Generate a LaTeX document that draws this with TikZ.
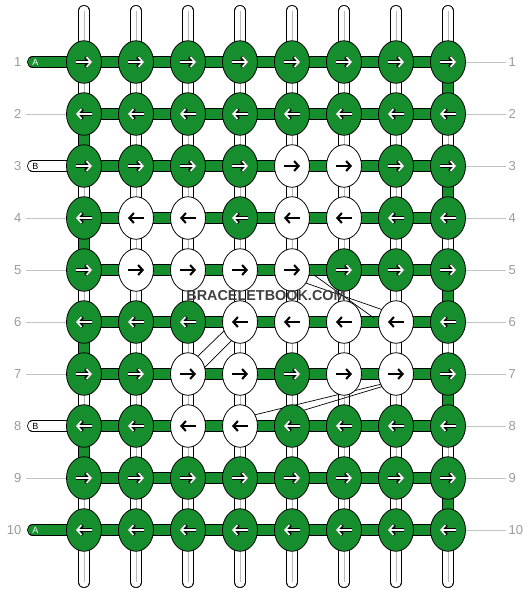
\documentclass[tikz,border=0pt]{standalone}
\usepackage{fontspec}
\setmainfont{Liberation Sans}
\usetikzlibrary{shapes.geometric,arrows.meta,backgrounds}
\definecolor{kgreen}{RGB}{22,142,46}
\definecolor{numgray}{RGB}{155,155,155}
\definecolor{linegray}{RGB}{195,195,195}

\begin{document}
\begin{tikzpicture}[x=1pt,y=-1pt,
  knot/.style={ellipse,draw=black,line width=0.8pt,minimum width=35pt,minimum height=42.5pt,inner sep=0pt},
  arrtip/.style={-{Straight Barb[length=4.5pt,width=10pt]}},
  garrow/.style 2 args={path picture={
    \draw[line width=3.2pt,arrtip] ([xshift=#1]path picture bounding box.center) -- ([xshift=#2]path picture bounding box.center);
    \draw[white,line width=1.6pt,arrtip] ([xshift=#1]path picture bounding box.center) -- ([xshift=#2]path picture bounding box.center);}},
  warrow/.style 2 args={path picture={
    \draw[line width=2.1pt,arrtip] ([xshift=#1]path picture bounding box.center) -- ([xshift=#2]path picture bounding box.center);}},
  gright/.style={knot,fill=kgreen,garrow={-8pt}{8pt}},
  gleft/.style={knot,fill=kgreen,garrow={8pt}{-8pt}},
  wright/.style={knot,fill=white,warrow={-8pt}{8pt}},
  wleft/.style={knot,fill=white,warrow={8pt}{-8pt}},
  strand/.style={draw=black,line width=0.8pt,double=white,double distance=10pt,line cap=round},
  midline/.style={draw=black!28,line width=0.7pt},
  band/.style={draw=black,line width=0.8pt,double=kgreen,double distance=9.6pt},
  wband/.style={draw=black,line width=0.8pt,double=white,double distance=9.6pt},
  gline/.style={draw=linegray,line width=0.8pt},
  numlabel/.style={inner sep=0pt,text=numgray,font=\fontsize{13}{13}\selectfont},
  taillabel/.style={inner sep=0pt,font=\fontsize{9}{9}\selectfont},
  diag/.style={draw=black,line width=0.7pt}]
\useasboundingbox (0,0) rectangle (532,592);
\foreach \s [count=\c] in {gright,gright,gright,gright,gright,gright,gright,gright} \node[\s] (k-1-\c) at ({32+52*\c},62) {};
\foreach \s [count=\c] in {gleft,gleft,gleft,gleft,gleft,gleft,gleft,gleft} \node[\s] (k-2-\c) at ({32+52*\c},114) {};
\foreach \s [count=\c] in {gright,gright,gright,gright,wright,wright,gright,gright} \node[\s] (k-3-\c) at ({32+52*\c},166) {};
\foreach \s [count=\c] in {gleft,wleft,wleft,gleft,wleft,wleft,gleft,gleft} \node[\s] (k-4-\c) at ({32+52*\c},218) {};
\foreach \s [count=\c] in {gright,wright,wright,wright,wright,gright,gright,gright} \node[\s] (k-5-\c) at ({32+52*\c},270) {};
\foreach \s [count=\c] in {gleft,gleft,gleft,wleft,wleft,wleft,wleft,gleft} \node[\s] (k-6-\c) at ({32+52*\c},322) {};
\foreach \s [count=\c] in {gright,gright,wright,wright,gright,wright,wright,gright} \node[\s] (k-7-\c) at ({32+52*\c},374) {};
\foreach \s [count=\c] in {gleft,gleft,wleft,wleft,gleft,gleft,gleft,gleft} \node[\s] (k-8-\c) at ({32+52*\c},426) {};
\foreach \s [count=\c] in {gright,gright,gright,gright,gright,gright,gright,gright} \node[\s] (k-9-\c) at ({32+52*\c},478) {};
\foreach \s [count=\c] in {gleft,gleft,gleft,gleft,gleft,gleft,gleft,gleft} \node[\s] (k-10-\c) at ({32+52*\c},530) {};
\foreach \r in {1,...,10} {
  \node[numlabel,anchor=east] (nl-\r) at (21.5,{10+52*\r}) {\r};
  \node[numlabel,anchor=west] (nr-\r) at (508.5,{10+52*\r}) {\r};
}
\coordinate (s-1) at (32.6,62);
\coordinate (s-3) at (32.6,166);
\coordinate (s-8) at (32.6,426);
\coordinate (s-10) at (32.6,530);
\coordinate (d1) at (300,281);
\coordinate (d2) at (386,311);
\coordinate (d3) at (314,275);
\coordinate (d4) at (374,318);
\coordinate (d5) at (228,327);
\coordinate (d6) at (195,359);
\coordinate (d7) at (236,336);
\coordinate (d8) at (202,370);
\coordinate (d9) at (250,416);
\coordinate (d10) at (386,383);
\coordinate (d11) at (298,412);
\coordinate (d12) at (384,386);
\begin{scope}[on background layer]
\foreach \c in {1,...,8} {
  \coordinate (t-\c) at ({32+52*\c},10.8);
  \coordinate (b-\c) at ({32+52*\c},582.2);
  \draw[strand] (t-\c) -- (b-\c);
  \draw[midline] (t-\c) -- (b-\c);
}
\foreach \u/\v in {1/2,3/4,5/6,7/8,9/10} \draw[band] (k-\u-8.center) -- (k-\v-8.center);
\foreach \u/\v in {2/3,4/5,6/7,8/9} \draw[band] (k-\u-1.center) -- (k-\v-1.center);
\foreach \r in {1,...,10} \draw[band] (k-\r-1.center) -- (k-\r-8.center);
\draw[band,line cap=round] (s-1) -- (k-1-1.center);
\draw[wband,line cap=round] (s-3) -- (k-3-1.center);
\draw[wband,line cap=round] (s-8) -- (k-8-1.center);
\draw[band,line cap=round] (s-10) -- (k-10-1.center);
\foreach \r in {1,...,10} \draw[gline,shorten >=3pt] (k-\r-8.east) -- (nr-\r.west);
\foreach \r in {2,4,5,6,7,9} \draw[gline,shorten <=4.5pt] (nl-\r.east) -- (k-\r-1.west);
\draw[diag] (d1) -- (d2);
\draw[diag] (d3) -- (d4);
\draw[diag] (d5) -- (d6);
\draw[diag] (d7) -- (d8);
\draw[diag] (d9) -- (d10);
\draw[diag] (d11) -- (d12);
\end{scope}
\node[taillabel,text=white] (ta-1) at (35.5,62.5) {A};
\node[taillabel] (ta-3) at (35.5,166.5) {B};
\node[taillabel] (ta-8) at (35.5,426.5) {B};
\node[taillabel,text=white] (ta-10) at (35.5,530.5) {A};
\node[font=\bfseries\fontsize{14.4}{14.4}\selectfont,text=black!75] (wm) at (266,296) {BRACELETBOOK.COM};
\end{tikzpicture}
\end{document}
